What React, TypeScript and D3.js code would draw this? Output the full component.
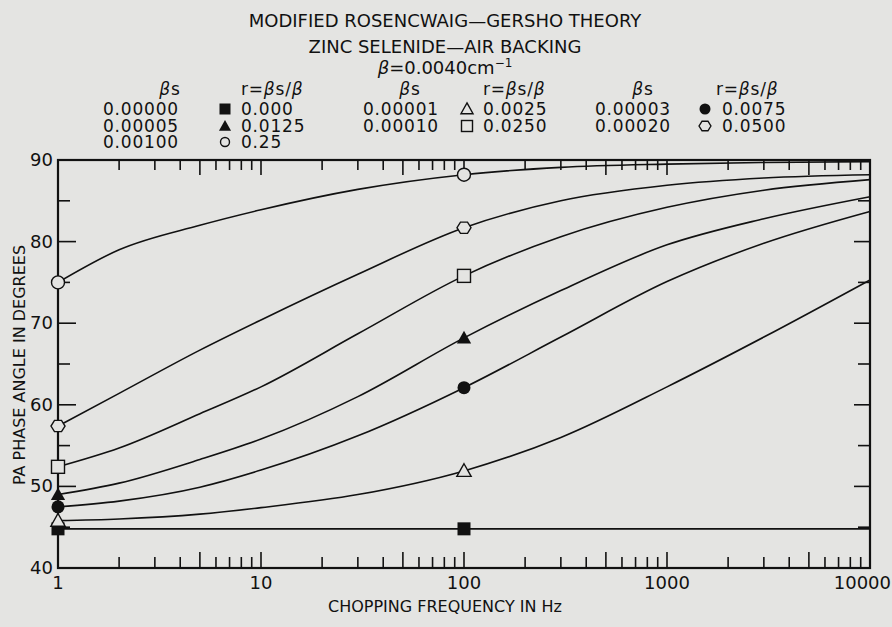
import React from "react";
import * as d3 from "d3";

const FREQS = [1, 2, 5, 10, 30, 100, 300, 1000, 3000, 10000];
const R_000 = [44.8, 44.8, 44.8, 44.8, 44.8, 44.8, 44.8, 44.8, 44.8, 44.8];
const R_0025 = [45.8, 46.0, 46.6, 47.4, 49.0, 51.9, 56.0, 62.2, 68.3, 75.3];
const R_0075 = [47.5, 48.2, 49.9, 52.0, 56.2, 62.1, 68.3, 75.1, 79.8, 83.7];
const R_0125 = [49.0, 50.4, 53.3, 55.8, 61.0, 68.2, 74.0, 79.6, 82.8, 85.5];
const R_0250 = [52.4, 54.7, 58.9, 62.2, 68.7, 75.8, 80.6, 84.2, 86.3, 87.6];
const R_0500 = [57.4, 61.4, 66.7, 70.4, 76.0, 81.7, 85.0, 86.9, 87.8, 88.2];
const R_25 = [75.0, 79.0, 82.0, 83.9, 86.4, 88.2, 89.1, 89.5, 89.7, 89.8];

const MARKER_FREQS = [1, 100];
const X_TICK_LABELS = ["1", "10", "100", "1000", "10000"];
const X_TICK_VALUES = [1, 10, 100, 1000, 10000];
const Y_TICK_VALUES = [40, 50, 60, 70, 80, 90];

type Shape = "fsquare" | "otri" | "fcircle" | "ftri" | "osquare" | "hex" | "ocircle";
const SERIES: { vals: number[]; shape: Shape }[] = [
  { vals: R_000, shape: "fsquare" },
  { vals: R_0025, shape: "otri" },
  { vals: R_0075, shape: "fcircle" },
  { vals: R_0125, shape: "ftri" },
  { vals: R_0250, shape: "osquare" },
  { vals: R_0500, shape: "hex" },
  { vals: R_25, shape: "ocircle" },
];

const LEGEND_BS = [
  ["0.00000", "0.00005", "0.00100"],
  ["0.00001", "0.00010"],
  ["0.00003", "0.00020"],
];
const LEGEND_R = [
  ["0.000", "0.0125", "0.25"],
  ["0.0025", "0.0250"],
  ["0.0075", "0.0500"],
];
const LEGEND_SHAPES: Shape[][] = [
  ["fsquare", "ftri", "ocircle"],
  ["otri", "osquare"],
  ["fcircle", "hex"],
];

const W = 892;
const H = 627;
const BG = "#e4e4e2";
const INK = "#111";
const FONT = "'DejaVu Sans', Verdana, sans-serif";

const x = d3.scaleLog().domain([1, 10000]).range([58, 870]);
const y = d3.scaleLinear().domain([40, 90]).range([568, 160]);

function Marker({ shape, cx, cy, s }: { shape: Shape; cx: number; cy: number; s: number }) {
  const h = s / 2;
  const sw = 1.4;
  switch (shape) {
    case "fsquare":
      return <rect x={cx - h} y={cy - h} width={s} height={s} fill={INK} />;
    case "osquare":
      return <rect x={cx - h} y={cy - h} width={s} height={s} fill={BG} stroke={INK} strokeWidth={sw} />;
    case "ftri":
    case "otri": {
      const pts = `${cx},${cy - h * 1.1} ${cx + h * 1.1},${cy + h * 0.85} ${cx - h * 1.1},${cy + h * 0.85}`;
      return shape === "ftri" ? (
        <polygon points={pts} fill={INK} />
      ) : (
        <polygon points={pts} fill={BG} stroke={INK} strokeWidth={sw} />
      );
    }
    case "fcircle":
      return <circle cx={cx} cy={cy} r={h} fill={INK} />;
    case "ocircle":
      return <circle cx={cx} cy={cy} r={h} fill={BG} stroke={INK} strokeWidth={sw} />;
    case "hex": {
      const pts = d3
        .range(6)
        .map((i) => {
          const a = (Math.PI / 3) * i;
          return `${cx + h * 1.08 * Math.cos(a)},${cy + h * 1.0 * Math.sin(a)}`;
        })
        .join(" ");
      return <polygon points={pts} fill={BG} stroke={INK} strokeWidth={sw} />;
    }
  }
  return null;
}

export default function App() {
  const line = d3
    .line<[number, number]>()
    .x((d) => x(d[0]))
    .y((d) => y(d[1]))
    .curve(d3.curveMonotoneX);

  const decades = [1, 10, 100, 1000];
  const minor: { v: number; big: boolean }[] = [];
  decades.forEach((d) => {
    for (let k = 2; k <= 10; k++) minor.push({ v: d * k, big: k === 5 || k === 10 });
  });

  const yTicks = d3.range(45, 90, 5);

  const colX = [
    { bs: 103, mk: 225, r: 241, hbs: 170, hr: 241 },
    { bs: 363, mk: 467, r: 483, hbs: 410, hr: 483 },
    { bs: 595, mk: 705, r: 722, hbs: 643, hr: 716 },
  ];
  const rowY = [115, 132, 148];

  return (
    <svg width={W} height={H} style={{ display: "block", position: "absolute", left: 0, top: 0 }} fontFamily={FONT}>
      <rect x={0} y={0} width={W} height={H} fill={BG} />
      {/* Titles */}
      <g fill={INK} textAnchor="middle">
        <text x={445} y={27} fontSize={18}>MODIFIED ROSENCWAIG—GERSHO THEORY</text>
        <text x={445} y={53} fontSize={18}>ZINC SELENIDE—AIR BACKING</text>
        <text x={445} y={74} fontSize={18}>
          <tspan fontStyle="italic">β</tspan>=0.0040cm
          <tspan dy={-7} fontSize={12}>−1</tspan>
        </text>
      </g>
      {/* Legend */}
      <g fill={INK} fontSize={17} letterSpacing={0.8}>
        {colX.map((c, ci) => (
          <g key={ci}>
            <text x={c.hbs} y={95} textAnchor="middle">
              <tspan fontStyle="italic">β</tspan>s
            </text>
            <text x={c.hr} y={95}>
              r=<tspan fontStyle="italic">β</tspan>s/<tspan fontStyle="italic">β</tspan>
            </text>
            {LEGEND_BS[ci].map((t, ri) => (
              <g key={ri}>
                <text x={c.bs} y={rowY[ri]}>{t}</text>
                <Marker shape={LEGEND_SHAPES[ci][ri]} cx={c.mk} cy={rowY[ri] - 6} s={LEGEND_SHAPES[ci][ri] === "ocircle" ? 9 : 11} />
                <text x={c.r} y={rowY[ri]}>{LEGEND_R[ci][ri]}</text>
              </g>
            ))}
          </g>
        ))}
      </g>
      {/* Curves */}
      <g fill="none" stroke={INK} strokeWidth={1.6}>
        {SERIES.map((s, i) => (
          <path key={i} d={line(FREQS.map((f, j) => [f, s.vals[j]] as [number, number])) || ""} />
        ))}
      </g>
      {/* Frame */}
      <rect x={x(1)} y={y(90)} width={x(10000) - x(1)} height={y(40) - y(90)} fill="none" stroke={INK} strokeWidth={2.2} />
      {/* ticks */}
      <g stroke={INK} strokeWidth={1.6}>
        {minor.map((t, i) => (
          <g key={i}>
            <line x1={x(t.v)} x2={x(t.v)} y1={y(40)} y2={y(40) - (t.big ? 16 : 11)} />
            <line x1={x(t.v)} x2={x(t.v)} y1={y(90)} y2={y(90) + (t.big ? 15 : 10)} />
          </g>
        ))}
        {yTicks.map((v) => (
          <g key={v}>
            <line x1={x(1)} x2={x(1) + (v % 10 === 0 ? 18 : 12)} y1={y(v)} y2={y(v)} />
            <line x1={x(10000)} x2={x(10000) - (v % 10 === 0 ? 16 : 12)} y1={y(v)} y2={y(v)} />
          </g>
        ))}
      </g>
      {/* Markers */}
      {SERIES.map((s, i) =>
        MARKER_FREQS.map((f) => {
          const j = FREQS.indexOf(f);
          return <Marker key={`${i}-${f}`} shape={s.shape} cx={x(f)} cy={y(s.vals[j])} s={13} />;
        })
      )}
      {/* Tick labels */}
      <g fill={INK} fontSize={18}>
        {Y_TICK_VALUES.map((v) => (
          <text key={v} x={x(1) - 5} y={y(v) + 6} textAnchor="end">{v}</text>
        ))}
        {X_TICK_VALUES.map((v, i) => (
          <text key={v} x={x(v)} y={589} textAnchor={i === 4 ? "end" : "middle"} dx={i === 4 ? 21 : 0}>
            {X_TICK_LABELS[i]}
          </text>
        ))}
      </g>
      {/* Axis titles */}
      <text x={445} y={612} fontSize={16} textAnchor="middle" fill={INK}>CHOPPING FREQUENCY IN Hz</text>
      <text transform="translate(25,365) rotate(-90)" fontSize={16} textAnchor="middle" fill={INK}>PA PHASE ANGLE IN DEGREES</text>
    </svg>
  );
}
